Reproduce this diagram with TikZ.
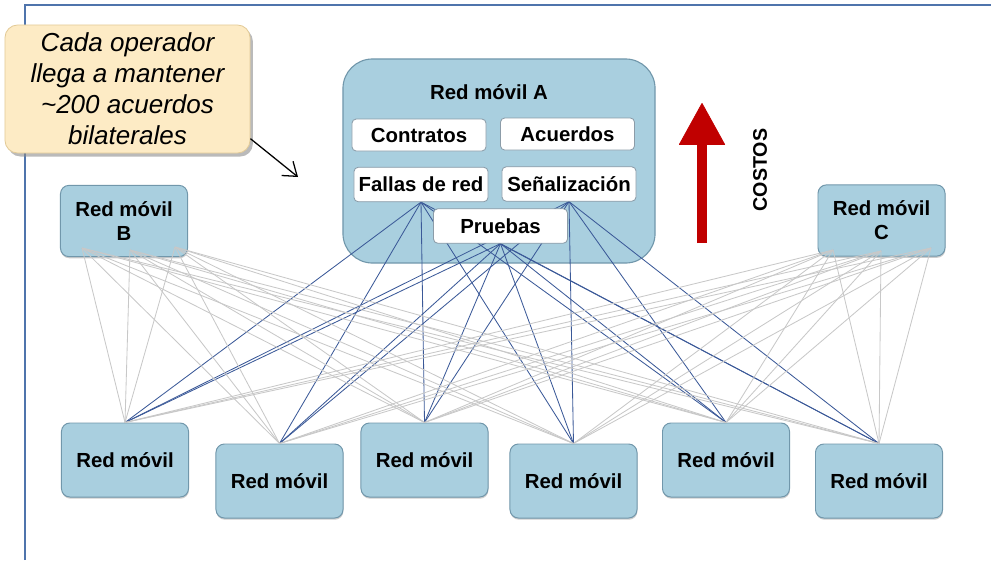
\documentclass[tikz,border=0pt]{standalone}
\usepackage{fontspec}
\setmainfont{Liberation Sans}
\usepackage{tikz}
\usepackage{xcolor}
\usetikzlibrary{arrows.meta,shadows}
\definecolor{netfill}{HTML}{A9CFDF}
\definecolor{netline}{HTML}{7197AB}
\definecolor{itemline}{HTML}{8C9CA8}
\definecolor{notefill}{HTML}{FDEBC5}
\definecolor{noteline}{HTML}{E3CB98}
\definecolor{framecol}{HTML}{4F74AC}
\definecolor{linkblue}{HTML}{3B5998}
\definecolor{linkgray}{HTML}{C8C8C8}
\definecolor{costred}{HTML}{C00000}
\pgfdeclarelayer{back}
\pgfdeclarelayer{links}
\pgfsetlayers{back,links,main}
\tikzset{
  net/.style={draw=netline,fill=netfill,line width=0.7pt,rounded corners=6pt,
              align=center,font=\fontsize{14.5}{17}\selectfont\bfseries,
              minimum width=3.175cm,minimum height=1.85cm,
              drop shadow={shadow xshift=0.3pt,shadow yshift=-1.2pt,
                           fill=black!40,opacity=0.5}},
  hub/.style={draw=netline,fill=netfill,line width=0.8pt,rounded corners=21pt,
              minimum width=7.8cm,minimum height=5.1cm},
  item/.style={draw=itemline,fill=white,line width=0.6pt,rounded corners=3pt,
               font=\fontsize{14.5}{17}\selectfont\bfseries,inner sep=1pt,
               minimum width=3.35cm,minimum height=0.8cm},
  note/.style={draw=noteline,fill=notefill,line width=0.6pt,rounded corners=9pt,
               align=center,font=\fontsize{18.5}{22}\selectfont\itshape,
               minimum width=6.125cm,minimum height=3.2cm,
               drop shadow={shadow xshift=2pt,shadow yshift=-2.5pt,
                            fill=black!45,opacity=0.6}},
  bluelink/.style={draw=linkblue,line width=0.6pt},
  graylink/.style={draw=linkgray,line width=0.6pt},
  notearr/.style={-{Straight Barb[length=9pt,width=13pt]},line width=0.9pt,
                  draw=black},
  costarr/.style={-{Triangle[length=30pt,width=33pt,line width=0.5pt,round]},
                  line width=7pt,draw=costred},
  frame/.style={draw=framecol,line width=1.5pt}
}

\begin{document}
\begin{tikzpicture}[x=0.025cm,y=-0.025cm]
    \path[use as bounding box] (0,0) rectangle (991,560);
    \draw[frame] (25,560) -- (25,5) -- (991,5);

    % red movil A
    \begin{pgfonlayer}{back}
      \node[hub] (hubA) at (499,161) {};
    \end{pgfonlayer}
    \node[font=\fontsize{14.5}{17}\selectfont\bfseries] (titleA) at (489,92)
      {Red móvil A};
    \node[item] (contratos) at (419,135) {Contratos};
    \node[item] (acuerdos) at (567.5,134) {Acuerdos};
    \node[item,minimum height=0.86cm] (fallas) at (421,184.5) {Fallas de red};
    \node[item,minimum height=0.86cm] (senal) at (569,184) {Señalización};
    \node[item,minimum height=0.86cm] (pruebas) at (500.5,226) {Pruebas};

    % other networks
    \node[net,minimum height=1.78cm] (redB) at (124,221) {Red móvil\\B};
    \node[net,minimum height=1.78cm] (redC) at (881.5,220.5) {Red móvil\\C};
    \node[net] (r1) at (125,460) {Red móvil};
    \node[net] (r2) at (279.5,481) {Red móvil};
    \node[net] (r3) at (424.5,460) {Red móvil};
    \node[net] (r4) at (573.5,481) {Red móvil};
    \node[net] (r5) at (726,460) {Red móvil};
    \node[net] (r6) at (879,481) {Red móvil};

    \coordinate (bs1) at (82,248);
    \coordinate (bs2) at (130,250);
    \coordinate (bs3) at (175,247);
    \coordinate (cs1) at (833,250);
    \coordinate (cs2) at (881,251);
    \coordinate (cs3) at (931,248);

    \begin{pgfonlayer}{links}
      \foreach \s in {fallas,senal,pruebas}
        \foreach \t in {1,...,6}
          \draw[bluelink] (\s.south) -- (r\t.north);
    \end{pgfonlayer}
    \foreach \s in {bs1,bs2,bs3,cs1,cs2,cs3}
      \foreach \t in {1,...,6}
        \draw[graylink] (\s) -- (r\t.north);

    % costs
    \coordinate (costlow) at (702,243);
    \coordinate (costtop) at (702,103);
    \draw[costarr] (costlow) -- (costtop);
    \node[rotate=90,font=\fontsize{14}{17}\selectfont\bfseries] (costos)
      at (760,170) {COSTOS};

    % callout
    \node[note] (nota) at (127.5,89)
      {Cada operador\\llega a mantener\\\textasciitilde200 acuerdos\\bilaterales};
    \coordinate (notatip) at (298,177);
    \draw[notearr] (nota.-22) -- (notatip);
\end{tikzpicture}
\end{document}
